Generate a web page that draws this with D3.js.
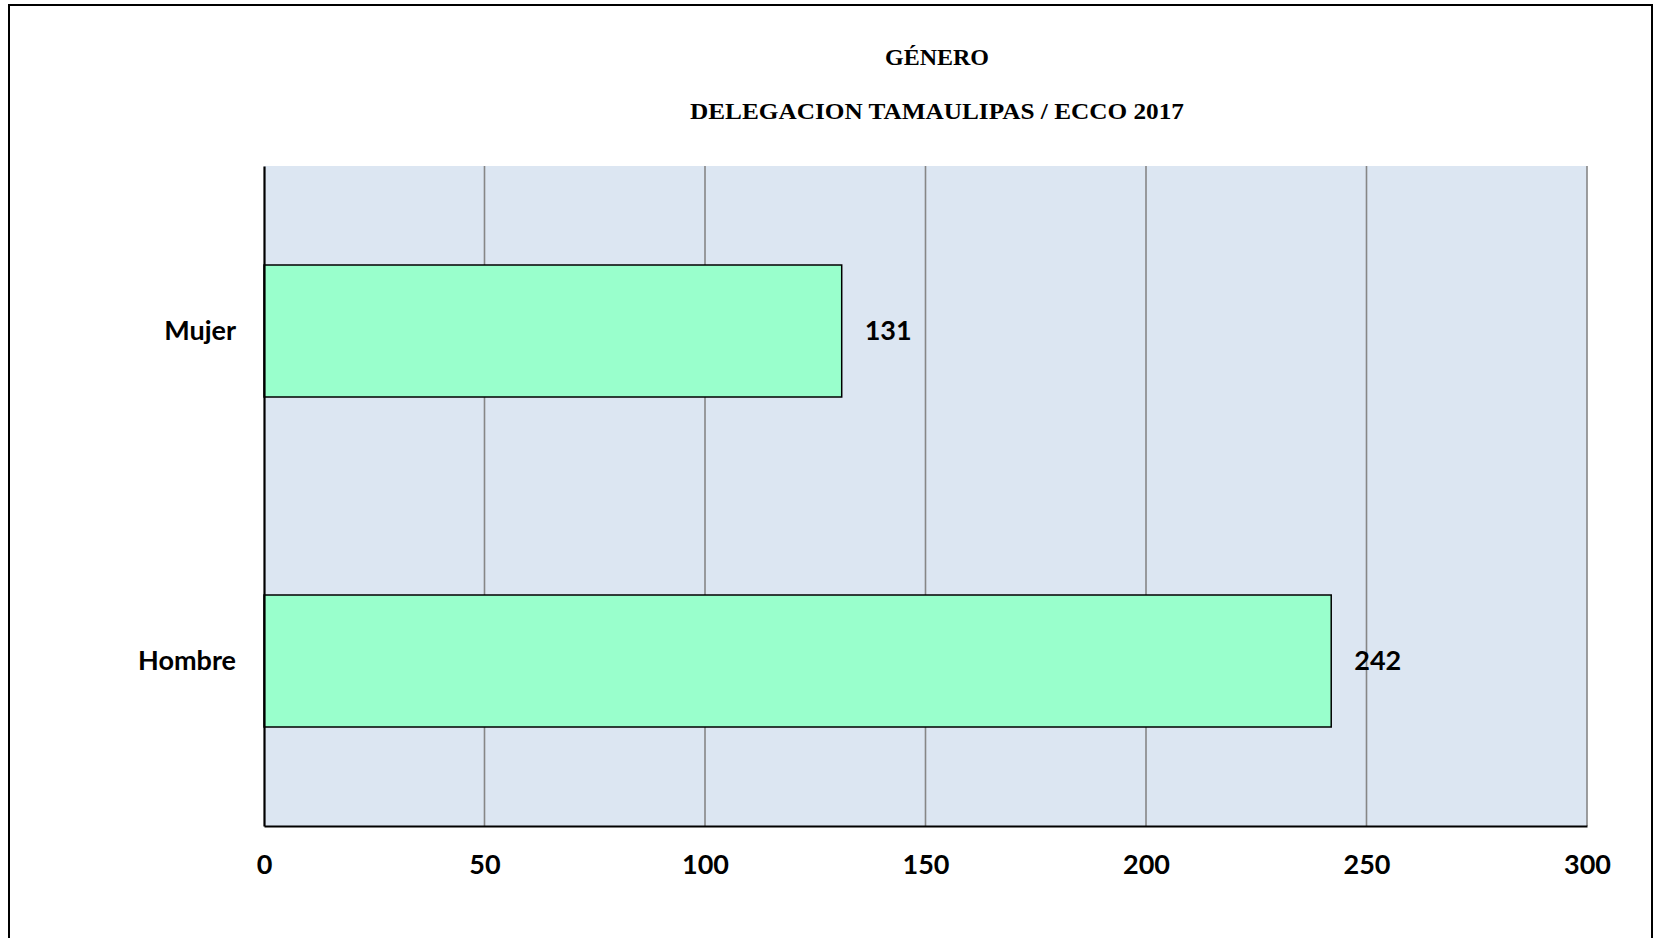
<!DOCTYPE html>
<html>
<head>
<meta charset="utf-8">
<script src="https://cdn.jsdelivr.net/npm/d3@7"></script>
<style>
  html, body { margin: 0; padding: 0; background: #ffffff; }
  svg { display: block; }
</style>
</head>
<body>
<svg id="chart" width="1653" height="938"></svg>
<script>
// Chart data
const titleLines = ["GÉNERO", "DELEGACION TAMAULIPAS / ECCO 2017"];
const categories = ["Mujer", "Hombre"];
const values = [131, 242];
const xTicks = [0, 50, 100, 150, 200, 250, 300];

const svg = d3.select("#chart");

// Outer chart frame
svg.append("rect")
  .attr("x", 9).attr("y", 5)
  .attr("width", 1643).attr("height", 960)
  .attr("fill", "#ffffff")
  .attr("stroke", "#000000")
  .attr("stroke-width", 2);

// Titles
const titleFont = "'Liberation Serif', 'Times New Roman', serif";
const titleSpec = [
  { text: titleLines[0], y: 65, len: 104 },
  { text: titleLines[1], y: 118.5, len: 494 }
];
svg.append("g")
  .selectAll("text")
  .data(titleSpec)
  .join("text")
  .attr("x", 937)
  .attr("y", d => d.y)
  .attr("text-anchor", "middle")
  .attr("font-family", titleFont)
  .attr("font-weight", "bold")
  .attr("font-size", 22.5)
  .attr("fill", "#000")
  .attr("textLength", d => d.len)
  .attr("lengthAdjust", "spacingAndGlyphs")
  .text(d => d.text);

// Plot area
const plot = { left: 264, top: 166, right: 1587, bottom: 826 };

const x = d3.scaleLinear()
  .domain([0, 300])
  .range([plot.left, plot.right]);

const y = d3.scaleBand()
  .domain(categories)
  .range([plot.top, plot.bottom])
  .paddingInner(0.6)
  .paddingOuter(0.3);

const labelFont = "Lato, 'Open Sans', sans-serif";
const labelSize = 27;

svg.append("rect")
  .attr("x", plot.left).attr("y", plot.top)
  .attr("width", plot.right - plot.left)
  .attr("height", plot.bottom - plot.top)
  .attr("fill", "#dce6f2");

// Vertical gridlines
svg.append("g")
  .selectAll("line")
  .data(xTicks.filter(d => d > 0))
  .join("line")
  .attr("x1", d => x(d)).attr("x2", d => x(d))
  .attr("y1", plot.top).attr("y2", plot.bottom)
  .attr("stroke", "#868686")
  .attr("stroke-width", 1.6);

// Bars
const rows = categories.map((c, i) => ({ c, v: values[i] }));
svg.append("g")
  .selectAll("rect")
  .data(rows)
  .join("rect")
  .attr("x", x(0))
  .attr("y", d => y(d.c))
  .attr("width", d => x(d.v) - x(0))
  .attr("height", y.bandwidth())
  .attr("fill", "#99ffcc")
  .attr("stroke", "#000000")
  .attr("stroke-width", 1.5);

// Value labels
svg.append("g")
  .selectAll("text")
  .data(rows)
  .join("text")
  .attr("x", d => x(d.v) + 23)
  .attr("y", d => y(d.c) + y.bandwidth() / 2)
  .attr("dy", "0.35em")
  .attr("font-family", labelFont)
  .attr("font-weight", "bold")
  .attr("font-size", labelSize)
  .attr("fill", "#000")
  .text(d => d.v);

// X axis
const xAxis = d3.axisBottom(x)
  .tickValues(xTicks)
  .tickSize(0)
  .tickPadding(29)
  .tickFormat(d3.format("d"));
const gx = svg.append("g")
  .attr("transform", `translate(0,${plot.bottom})`)
  .call(xAxis);
gx.select(".domain").attr("stroke", "#000").attr("stroke-width", 2.2);
gx.selectAll("text")
  .attr("font-family", labelFont)
  .attr("font-weight", "bold")
  .attr("font-size", labelSize)
  .attr("fill", "#000");

// Y axis
const yAxis = d3.axisLeft(y)
  .tickSize(0)
  .tickPadding(28);
const gy = svg.append("g")
  .attr("transform", `translate(${plot.left},0)`)
  .call(yAxis);
gy.select(".domain").attr("stroke", "#000").attr("stroke-width", 2.2);
gy.selectAll("text")
  .attr("font-family", labelFont)
  .attr("font-weight", "bold")
  .attr("font-size", labelSize)
  .attr("fill", "#000");
</script>
</body>
</html>
